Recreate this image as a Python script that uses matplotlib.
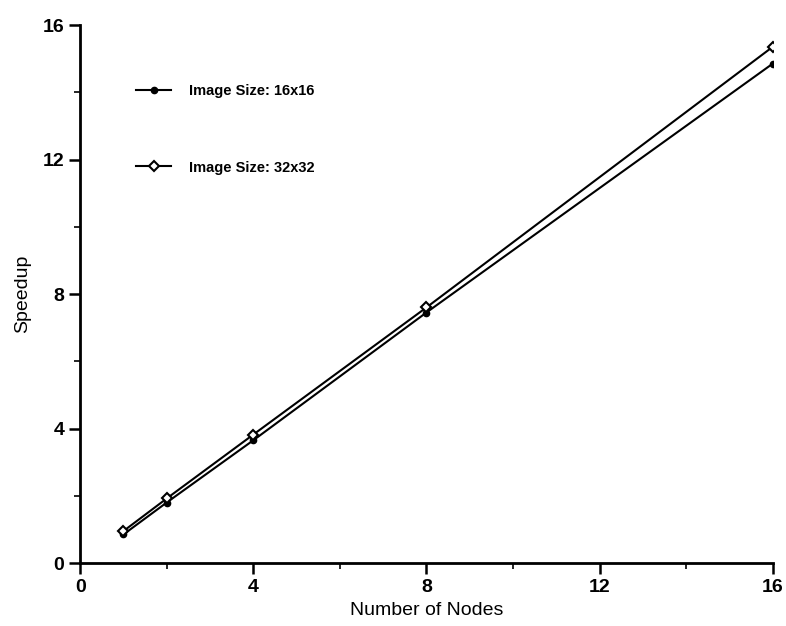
import numpy as np
import matplotlib.pyplot as plt
from matplotlib.ticker import MultipleLocator

plt.rcParams['font.family'] = ['Liberation Sans', 'DejaVu Sans']

nodes = [1, 2, 4, 8, 16]
speedup_16 = [0.85, 1.8, 3.65, 7.45, 14.85]
speedup_32 = [0.95, 1.92, 3.82, 7.6, 15.35]

fig = plt.figure(figsize=(7.86, 6.26), dpi=100)
ax = fig.add_axes([0.102, 0.1006, 0.881, 0.8594])

# series
ax.plot(nodes, speedup_16, color='black', lw=1.5, marker='o', ms=4.5,
        label='Image Size: 16x16')
ax.plot(nodes, speedup_32, color='black', lw=1.5, marker='D', ms=5,
        mfc='white', mew=1.5, label='Image Size: 32x32')

ax.set_xlim(0, 16)
ax.set_ylim(0, 16)
ax.xaxis.set_major_locator(MultipleLocator(4))
ax.xaxis.set_minor_locator(MultipleLocator(2))
ax.yaxis.set_major_locator(MultipleLocator(4))
ax.yaxis.set_minor_locator(MultipleLocator(2))
ax.tick_params(which='major', length=8, width=1.8, labelsize=14, direction='out')
ax.tick_params(which='minor', length=4, width=1.2, direction='out')
for lab in ax.get_xticklabels() + ax.get_yticklabels():
    lab.set_fontweight('bold')

for s in ['top', 'right']:
    ax.spines[s].set_visible(False)
for s in ['left', 'bottom']:
    ax.spines[s].set_linewidth(2)

ax.set_xlabel('Number of Nodes', fontsize=14, labelpad=4)
ax.set_ylabel('Speedup', fontsize=14, labelpad=8)

leg = ax.legend(loc='upper left', bbox_to_anchor=(0.062, 0.915), frameon=False,
                fontsize=10.5, handlelength=2.4, labelspacing=4.3, handletextpad=1.2)
for t in leg.get_texts():
    t.set_fontweight('bold')

plt.savefig('out.png', dpi=100)
